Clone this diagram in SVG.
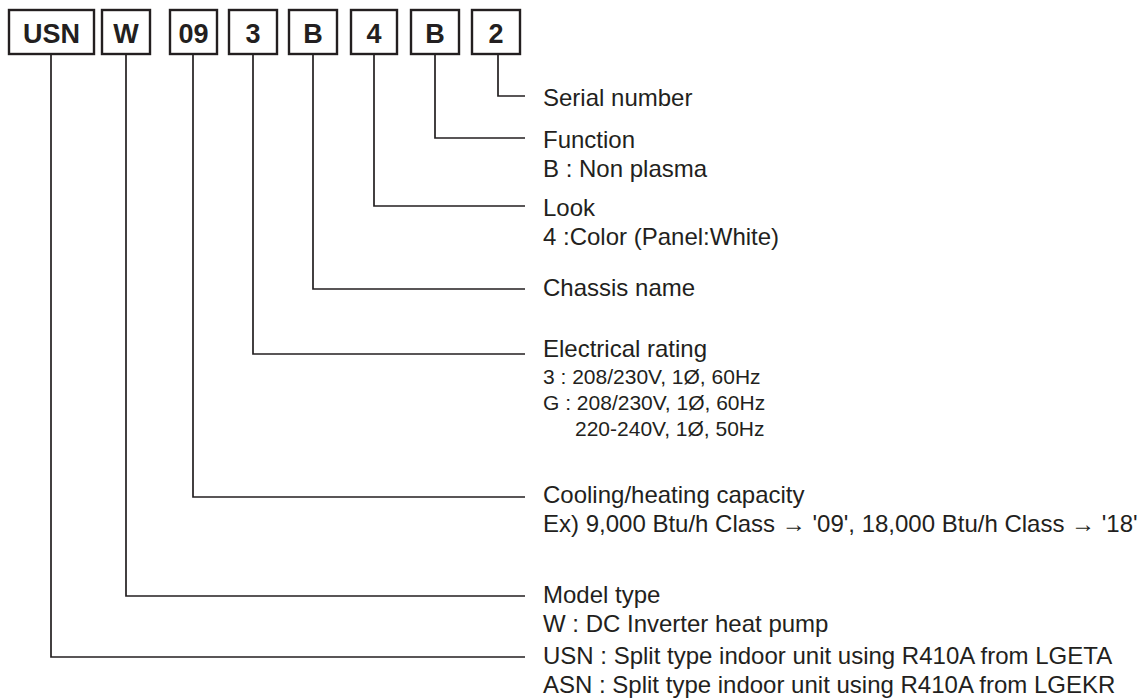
<svg xmlns="http://www.w3.org/2000/svg" width="1145" height="699" viewBox="0 0 1145 699">
<style>
.box{fill:#fff;stroke:#231f20;stroke-width:2.4}
.code{font-family:"Liberation Sans",Arial,sans-serif;font-weight:bold;font-size:27px;fill:#231f20;text-anchor:middle}
.conn{fill:none;stroke:#231f20;stroke-width:1.7}
.lbl{font-family:"Liberation Sans",Arial,sans-serif;font-size:24px;fill:#231f20}
.sm{font-family:"Liberation Sans",Arial,sans-serif;font-size:21px;fill:#231f20}
</style>
<rect width="1145" height="699" fill="#fff"/>
<g id="connectors">
<polyline class="conn" points="498,55 498,96 525,96"/>
<polyline class="conn" points="435,55 435,138 525,138"/>
<polyline class="conn" points="374,55 374,206 525,206"/>
<polyline class="conn" points="313,55 313,289 525,289"/>
<polyline class="conn" points="253,55 253,354 525,354"/>
<polyline class="conn" points="193,55 193,497 525,497"/>
<polyline class="conn" points="126,55 126,596 525,596"/>
<polyline class="conn" points="51,55 51,657 525,657"/>
</g>
<g id="box-usn"><rect class="box" x="9" y="10" width="85" height="44"/><text class="code" x="51.5" y="42.5">USN</text></g>
<g id="box-w"><rect class="box" x="102" y="10" width="48" height="44"/><text class="code" x="126" y="42.5">W</text></g>
<g id="box-09"><rect class="box" x="170" y="10" width="47" height="44"/><text class="code" x="193.5" y="42.5">09</text></g>
<g id="box-3"><rect class="box" x="229" y="10" width="48" height="44"/><text class="code" x="253" y="42.5">3</text></g>
<g id="box-b1"><rect class="box" x="289" y="10" width="48" height="44"/><text class="code" x="313" y="42.5">B</text></g>
<g id="box-4"><rect class="box" x="351" y="10" width="46" height="44"/><text class="code" x="374" y="42.5">4</text></g>
<g id="box-b2"><rect class="box" x="411" y="10" width="48" height="44"/><text class="code" x="435" y="42.5">B</text></g>
<g id="box-2"><rect class="box" x="472" y="10" width="48" height="44"/><text class="code" x="496" y="42.5">2</text></g>
<g id="label-serial"><text class="lbl" x="543" y="106">Serial number</text></g>
<g id="label-function"><text class="lbl" x="543" y="148">Function</text><text class="lbl" x="543" y="177">B : Non plasma</text></g>
<g id="label-look"><text class="lbl" x="543" y="216">Look</text><text class="lbl" x="543" y="245">4 :Color (Panel:White)</text></g>
<g id="label-chassis"><text class="lbl" x="543" y="296">Chassis name</text></g>
<g id="label-electrical"><text class="lbl" x="543" y="357">Electrical rating</text><text class="sm" x="543" y="384">3 : 208/230V, 1Ø, 60Hz</text><text class="sm" x="543" y="410">G : 208/230V, 1Ø, 60Hz</text><text class="sm" x="575" y="436">220-240V, 1Ø, 50Hz</text></g>
<g id="label-capacity"><text class="lbl" x="543" y="503">Cooling/heating capacity</text><text class="lbl" x="543" y="532">Ex) 9,000 Btu/h Class → '09', 18,000 Btu/h Class → '18'</text></g>
<g id="label-model"><text class="lbl" x="543" y="603">Model type</text><text class="lbl" x="543" y="632">W : DC Inverter heat pump</text></g>
<g id="label-usn"><text class="lbl" x="543" y="664">USN : Split type indoor unit using R410A from LGETA</text><text class="lbl" x="543" y="693">ASN : Split type indoor unit using R410A from LGEKR</text></g>
</svg>
